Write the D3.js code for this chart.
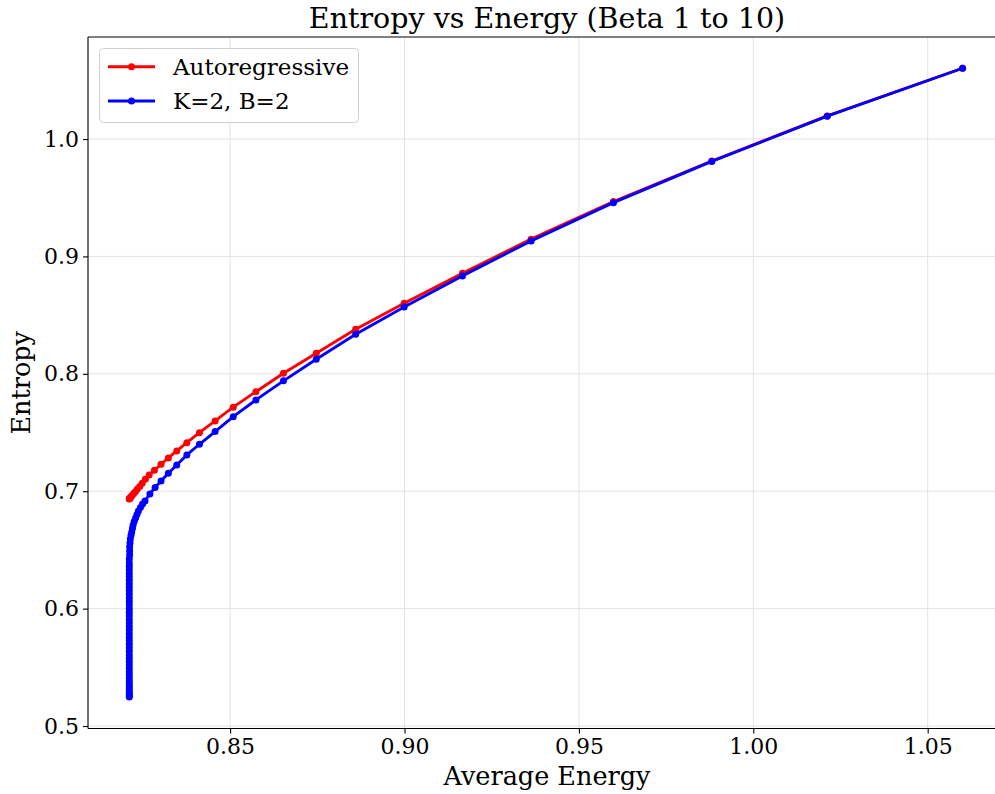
<!DOCTYPE html>
<html>
<head>
<meta charset="utf-8">
<script src="https://cdn.jsdelivr.net/npm/d3@7"></script>
<style>
  html, body { margin: 0; padding: 0; background: #fff; }
  svg { display: block; font-family: "DejaVu Serif", serif; }
</style>
</head>
<body>
<div id="chart"></div>
<script>
const width = 995, height = 794;

// autoregressive sampler: (average energy, entropy) per beta
const ar_energy = [1.0600, 1.0212, 0.9881, 0.9599, 0.9363, 0.9166, 0.8999, 0.8860, 0.8747, 0.8653,
  0.8574, 0.8509, 0.8457, 0.8412, 0.8376, 0.8347, 0.8323, 0.8302, 0.8283, 0.8268,
  0.8257, 0.8248, 0.8241, 0.8234, 0.8229, 0.8224, 0.8220, 0.8217, 0.8215, 0.8213,
  0.8212, 0.8211, 0.8211];
const ar_entropy = [1.0603, 1.0197, 0.9813, 0.9467, 0.9147, 0.8857, 0.8601, 0.8380, 0.8175, 0.8005,
  0.7848, 0.7716, 0.7599, 0.7499, 0.7414, 0.7343, 0.7284, 0.7230, 0.7179, 0.7139,
  0.7101, 0.7068, 0.7041, 0.7018, 0.6998, 0.6982, 0.6968, 0.6957, 0.6949, 0.6943,
  0.6939, 0.6936, 0.6933];

// K=2, B=2
const kb_energy = [1.0600, 1.0212, 0.9881, 0.9599, 0.9363, 0.9166, 0.8999, 0.8860, 0.8747, 0.8653,
  0.8574, 0.8509, 0.8457, 0.8412, 0.8376, 0.8347, 0.8323, 0.8302, 0.8285, 0.8270,
  0.8256, 0.8249, 0.8243, 0.8237, 0.8233, 0.8229, 0.8225, 0.8222, 0.8220, 0.8218,
  0.8216, 0.8214, 0.8213, 0.8212, 0.8212, 0.8212, 0.8211, 0.8211,
  0.8211, 0.8211, 0.8211, 0.8211, 0.8211, 0.8211, 0.8211, 0.8211, 0.8211, 0.8211,
  0.8211, 0.8211, 0.8211, 0.8211, 0.8211, 0.8211, 0.8211, 0.8211, 0.8211, 0.8211,
  0.8211, 0.8211, 0.8211, 0.8211, 0.8211, 0.8211, 0.8211, 0.8211, 0.8211, 0.8211,
  0.8211, 0.8211, 0.8211, 0.8211, 0.8211, 0.8211, 0.8211, 0.8211, 0.8211, 0.8211,
  0.8211, 0.8211];
const kb_entropy = [1.0603, 1.0195, 0.9809, 0.9458, 0.9132, 0.8834, 0.8570, 0.8337, 0.8124, 0.7940,
  0.7778, 0.7635, 0.7508, 0.7400, 0.7309, 0.7224, 0.7153, 0.7088, 0.7032, 0.6977,
  0.6917, 0.6892, 0.6862, 0.6832, 0.6802, 0.6773, 0.6743, 0.6713, 0.6683, 0.6653,
  0.6624, 0.6594, 0.6560, 0.6526, 0.6491, 0.6457, 0.6423, 0.6389,
  0.6360, 0.6331, 0.6301, 0.6272, 0.6242, 0.6213, 0.6183, 0.6152, 0.6122, 0.6091,
  0.6061, 0.6030, 0.6000, 0.5969, 0.5939, 0.5908, 0.5878, 0.5848, 0.5817, 0.5787,
  0.5756, 0.5726, 0.5696, 0.5666, 0.5636, 0.5606, 0.5577, 0.5548, 0.5519, 0.5491,
  0.5463, 0.5436, 0.5410, 0.5384, 0.5360, 0.5338, 0.5317, 0.5298, 0.5281, 0.5267,
  0.5256, 0.5248, 0.5242, 0.5238, 0.5236];

const x_ticks = [0.85, 0.90, 0.95, 1.00, 1.05];
const y_ticks = [0.5, 0.6, 0.7, 0.8, 0.9, 1.0];

const series = [
  { name: 'Autoregressive', color: '#ff0000', energy: ar_energy, entropy: ar_entropy },
  { name: 'K=2, B=2',       color: '#0000ff', energy: kb_energy, entropy: kb_entropy }
];

const margin = { left: 88, right: 1006, top: 37, bottom: 728.5 };

const x = d3.scaleLinear().domain([0.80926, 1.07245]).range([margin.left, margin.right]);
const y = d3.scaleLinear().domain([0.4979, 1.0869]).range([margin.bottom, margin.top]);

const svg = d3.select('#chart').append('svg')
  .attr('width', width)
  .attr('height', height)
  .attr('viewBox', [0, 0, width, height]);

svg.append('defs').append('clipPath').attr('id', 'plot-clip')
  .append('rect')
  .attr('x', margin.left).attr('y', margin.top)
  .attr('width', margin.right - margin.left).attr('height', margin.bottom - margin.top);

// grid
const grid = svg.append('g').attr('id', 'grid');
grid.selectAll('line.gx').data(x_ticks).join('line')
  .attr('class', 'gx')
  .attr('x1', d => x(d)).attr('x2', d => x(d))
  .attr('y1', margin.top).attr('y2', margin.bottom)
  .attr('stroke', '#e3e3e3').attr('stroke-width', 1);
grid.selectAll('line.gy').data(y_ticks).join('line')
  .attr('class', 'gy')
  .attr('x1', margin.left).attr('x2', margin.right)
  .attr('y1', d => y(d)).attr('y2', d => y(d))
  .attr('stroke', '#e3e3e3').attr('stroke-width', 1);

// series
const plot = svg.append('g').attr('id', 'series').attr('clip-path', 'url(#plot-clip)');
const line = d3.line().x(d => x(d[0])).y(d => y(d[1]));

series.forEach(s => {
  const pts = s.energy.map((e, i) => [e, s.entropy[i]]);
  const g = plot.append('g');
  g.append('path')
    .datum(pts)
    .attr('d', line)
    .attr('fill', 'none')
    .attr('stroke', s.color)
    .attr('stroke-width', 2.9)
    .attr('stroke-linejoin', 'round')
    .attr('stroke-linecap', 'square');
  g.selectAll('circle').data(pts).join('circle')
    .attr('cx', d => x(d[0]))
    .attr('cy', d => y(d[1]))
    .attr('r', 3.5)
    .attr('fill', s.color);
});

// axes
const xAxis = svg.append('g')
  .attr('transform', `translate(0,${margin.bottom})`)
  .call(d3.axisBottom(x).tickValues(x_ticks).tickFormat(d3.format('.2f')).tickSize(5).tickPadding(5));
const yAxis = svg.append('g')
  .attr('transform', `translate(${margin.left},0)`)
  .call(d3.axisLeft(y).tickValues(y_ticks).tickFormat(d3.format('.1f')).tickSize(5).tickPadding(4));

[xAxis, yAxis].forEach(a => {
  a.select('.domain').remove();
  a.selectAll('.tick line').attr('stroke', '#000').attr('stroke-width', 1.1);
  a.selectAll('.tick text')
    .attr('fill', '#000')
    .style('font-family', '"DejaVu Serif", serif')
    .style('font-size', '22px');
});

// spines (left, bottom, top; right falls outside the picture)
const spines = svg.append('g').attr('id', 'spines')
  .attr('stroke', '#000').attr('stroke-width', 1.1);
spines.append('line').attr('x1', margin.left).attr('x2', margin.left).attr('y1', margin.top).attr('y2', margin.bottom);
spines.append('line').attr('x1', margin.left).attr('x2', margin.right).attr('y1', margin.bottom).attr('y2', margin.bottom);
spines.append('line').attr('x1', margin.left).attr('x2', margin.right).attr('y1', margin.top).attr('y2', margin.top);
spines.append('line').attr('x1', margin.right).attr('x2', margin.right).attr('y1', margin.top).attr('y2', margin.bottom);

// title and labels
const cx = (margin.left + margin.right) / 2;
svg.append('text')
  .attr('x', cx).attr('y', 28)
  .attr('text-anchor', 'middle')
  .style('font-size', '28.5px')
  .text('Entropy vs Energy (Beta 1 to 10)');

svg.append('text')
  .attr('x', cx).attr('y', 785)
  .attr('text-anchor', 'middle')
  .style('font-size', '25.5px')
  .text('Average Energy');

svg.append('text')
  .attr('transform', `translate(30,${(margin.top + margin.bottom) / 2}) rotate(-90)`)
  .attr('text-anchor', 'middle')
  .style('font-size', '25.5px')
  .text('Entropy');

// legend
const legend = svg.append('g').attr('id', 'legend');
legend.append('rect')
  .attr('x', 99.5).attr('y', 48.5)
  .attr('width', 259).attr('height', 74)
  .attr('rx', 4)
  .attr('fill', '#fff').attr('fill-opacity', 0.8)
  .attr('stroke', '#d0d0d0').attr('stroke-width', 1);

const item = legend.selectAll('g.item').data(series).join('g')
  .attr('class', 'item')
  .attr('transform', (d, i) => `translate(0,${66.7 + i * 34.3})`);
item.append('line')
  .attr('x1', 108).attr('x2', 155)
  .attr('stroke', d => d.color).attr('stroke-width', 2.9);
item.append('circle')
  .attr('cx', 131.5).attr('r', 3.5)
  .attr('fill', d => d.color);
item.append('text')
  .attr('x', 173).attr('dy', '0.35em')
  .style('font-size', '23px')
  .text(d => d.name);
</script>
</body>
</html>
